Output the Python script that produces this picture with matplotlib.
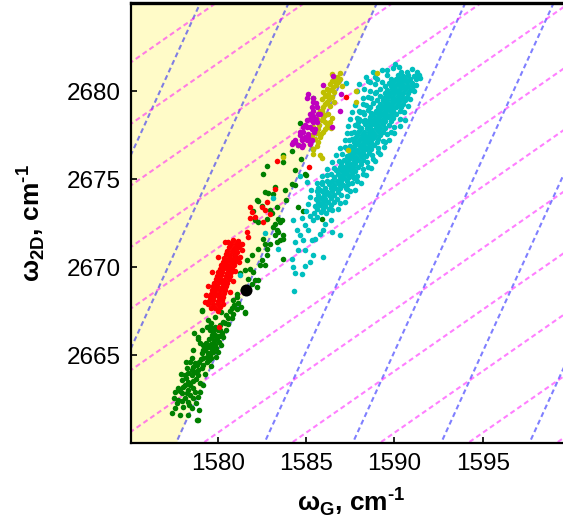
import numpy as np
import matplotlib
matplotlib.use("Agg")
import matplotlib.pyplot as plt

plt.rcParams["font.family"] = ["Liberation Sans", "DejaVu Sans"]
plt.rcParams["mathtext.fontset"] = "custom"
plt.rcParams["mathtext.rm"] = "Liberation Sans:bold"
plt.rcParams["mathtext.bf"] = "Liberation Sans:bold"
plt.rcParams["lines.scale_dashes"] = False

# reference point (unstrained, undoped) and slopes of the two line families
ref_G, ref_2D = 1581.6, 2668.7
strain_slope = 2.2
doping_slope = 0.7
line_step = 5.0

xticks = [1580, 1585, 1590, 1595]
yticks = [2665, 2670, 2675, 2680]

green_x = [1581.55, 1580.89, 1579.13, 1580.60, 1580.42, 1580.13, 1579.85, 1579.57, 1579.38, 1580.04,
           1579.75, 1580.23, 1579.85, 1579.66, 1579.94, 1578.68, 1578.90, 1579.00, 1579.19, 1579.47,
           1579.66, 1579.28, 1579.47, 1579.09, 1579.57, 1579.38, 1579.19, 1578.53, 1578.43, 1579.38,
           1579.66, 1578.81, 1578.62, 1578.25, 1578.90, 1578.72, 1578.34, 1578.15, 1578.53, 1578.90,
           1577.96, 1578.34, 1579.00, 1578.15, 1578.43, 1577.77, 1578.34, 1578.72, 1579.00, 1577.96,
           1578.43, 1578.15, 1578.62, 1578.34, 1577.68, 1577.59, 1578.06, 1578.53, 1577.40, 1577.87,
           1578.34, 1578.90, 1578.81,
           1579.75, 1579.95, 1580.15, 1579.55, 1579.70, 1580.05, 1579.50, 1579.80, 1580.05, 1579.60,
           1579.85, 1579.35, 1579.75, 1579.90, 1579.30, 1579.15, 1579.65, 1579.50, 1579.05, 1578.95,
           1579.20, 1578.70, 1579.10, 1578.55, 1578.80, 1578.60, 1578.20, 1578.05, 1577.85, 1578.25,
           1578.60, 1577.75, 1578.00, 1578.40, 1577.55, 1578.75, 1580.30, 1580.60, 1580.80, 1580.45,
           1580.20, 1581.10, 1581.35, 1580.95, 1579.09, 1579.47, 1579.85, 1579.65,
           1580.30, 1580.50, 1580.00, 1580.20, 1579.90, 1579.60, 1579.30, 1579.20, 1578.90, 1578.95,
           1577.60, 1577.90, 1578.20, 1578.60, 1578.90, 1579.10, 1580.70,
           1582.58, 1582.77, 1582.68, 1583.15, 1583.24, 1582.21, 1582.30, 1582.96, 1583.06, 1582.77,
           1582.11, 1582.30, 1583.43, 1583.53, 1583.24, 1583.15, 1583.34, 1583.43, 1583.24, 1583.53,
           1583.34, 1583.72, 1582.58, 1582.68, 1582.96, 1582.77, 1582.30, 1581.92, 1581.64, 1582.49,
           1582.77, 1582.39, 1582.68, 1581.83, 1582.02, 1581.55, 1581.73, 1582.11, 1582.30, 1581.92,
           1582.21, 1581.45, 1581.07, 1581.17, 1580.98, 1581.26, 1580.89, 1580.79, 1581.55, 1581.07,
           1585.41, 1584.66, 1584.56, 1584.19, 1585.37, 1584.70, 1583.71, 1584.94, 1583.72, 1584.38,
           1584.19, 1584.38, 1585.00, 1583.81, 1583.87, 1584.56, 1584.81, 1585.88, 1583.62, 1583.72,
           1583.72, 1582.86, 1583.34, 1582.50, 1582.00]
green_y = [2667.40, 2667.33, 2667.52, 2667.08, 2666.83, 2666.70, 2666.61, 2666.65, 2666.57, 2666.42,
           2666.32, 2666.23, 2666.14, 2666.04, 2665.95, 2666.23, 2666.00, 2665.66, 2665.57, 2665.47,
           2665.38, 2665.28, 2665.10, 2665.10, 2665.00, 2664.90, 2664.81, 2664.81, 2664.62, 2664.62,
           2665.28, 2664.43, 2664.34, 2664.25, 2664.15, 2664.06, 2663.96, 2663.87, 2663.87, 2663.87,
           2663.58, 2663.49, 2663.40, 2663.30, 2663.30, 2663.11, 2663.02, 2662.92, 2662.92, 2662.83,
           2662.73, 2662.54, 2662.54, 2662.35, 2662.26, 2661.98, 2662.07, 2661.98, 2661.69, 2661.60,
           2661.60, 2661.31, 2661.28,
           2666.50, 2666.55, 2666.45, 2666.40, 2666.15, 2666.10, 2665.90, 2665.80, 2665.75, 2665.65,
           2665.55, 2665.70, 2665.20, 2665.40, 2665.45, 2665.30, 2664.85, 2664.70, 2664.75, 2664.60,
           2664.45, 2664.55, 2664.25, 2664.15, 2663.65, 2663.55, 2663.70, 2663.20, 2662.95, 2662.85,
           2663.10, 2662.45, 2662.40, 2662.15, 2662.55, 2662.25, 2666.90, 2666.75, 2667.10, 2667.30,
           2667.45, 2667.60, 2667.75, 2667.85, 2667.55, 2666.99, 2667.18, 2666.85,
           2666.00, 2666.40, 2665.20, 2665.60, 2664.90, 2664.40, 2663.90, 2663.30, 2662.60, 2661.90,
           2662.90, 2663.90, 2664.60, 2665.30, 2665.90, 2666.40, 2667.50,
           2675.31, 2675.73, 2674.27, 2674.17, 2674.55, 2673.80, 2673.76, 2673.23, 2673.08, 2672.76,
           2672.66, 2672.57, 2672.76, 2672.57, 2672.47, 2672.28, 2672.10, 2672.00, 2671.81, 2671.53,
           2671.43, 2671.81, 2671.62, 2671.34, 2671.34, 2671.05, 2671.05, 2670.68, 2670.39, 2670.39,
           2670.68, 2670.11, 2670.11, 2669.92, 2669.73, 2669.82, 2669.35, 2669.26, 2669.26, 2669.03,
           2668.88, 2668.69, 2668.31, 2667.97, 2670.68, 2669.64, 2668.12, 2667.65, 2667.46, 2668.50,
           2679.62, 2678.20, 2676.92, 2676.63, 2676.73, 2676.12, 2675.97, 2675.31, 2676.35, 2675.50,
           2674.74, 2674.65, 2675.22, 2674.36, 2673.80, 2673.42, 2673.17, 2672.76, 2672.66, 2671.62,
           2670.49, 2674.21, 2673.42, 2673.50, 2673.20]

red_x = [1583.34, 1583.24, 1582.77, 1582.49, 1582.68, 1582.96, 1581.83, 1581.92, 1581.83, 1582.11,
         1582.58, 1581.64, 1581.73, 1580.60, 1581.36, 1581.17, 1581.07, 1581.26, 1587.24, 1585.19,
         1580.08,
         1580.85, 1581.15,
         1580.75, 1581.02, 1581.25,
         1580.63, 1580.92, 1581.15,
         1580.55, 1580.82, 1581.05,
         1580.45, 1580.68, 1580.97,
         1580.35, 1580.62, 1580.85, 1581.07,
         1580.30, 1580.52, 1580.73, 1580.96,
         1580.18, 1580.45, 1580.67, 1580.90,
         1580.12, 1580.35, 1580.60, 1580.84,
         1580.02, 1580.25, 1580.52, 1580.76,
         1579.95, 1580.18, 1580.45, 1580.70,
         1579.88, 1580.12, 1580.36, 1580.62,
         1579.80, 1580.05, 1580.28, 1580.55,
         1579.73, 1579.98, 1580.22, 1580.47,
         1579.68, 1579.92, 1580.15, 1580.40,
         1579.62, 1579.85, 1580.10, 1580.36,
         1579.56, 1579.80, 1580.05, 1580.30,
         1579.50, 1579.74, 1580.00, 1580.25,
         1579.48, 1579.72, 1580.02, 1580.30,
         1579.85, 1580.12,
         1580.00,
         1579.30, 1579.35, 1579.45, 1580.70, 1580.85, 1581.00, 1581.20, 1579.70, 1580.00, 1580.40,
         1581.40, 1579.60]
red_y = [2676.01, 2674.46, 2673.70, 2673.42, 2673.23, 2673.04, 2673.42, 2673.14, 2672.81, 2672.85,
         2672.57, 2672.00, 2671.72, 2671.43, 2671.34, 2671.15, 2670.86, 2670.58, 2679.70, 2675.69,
         2666.62,
         2671.52, 2671.48,
         2671.30, 2671.33, 2671.28,
         2671.12, 2671.08, 2671.13,
         2670.90, 2670.93, 2670.88,
         2670.72, 2670.68, 2670.71,
         2670.50, 2670.53, 2670.48, 2670.52,
         2670.30, 2670.33, 2670.28, 2670.32,
         2670.10, 2670.13, 2670.08, 2670.12,
         2669.90, 2669.93, 2669.88, 2669.92,
         2669.70, 2669.73, 2669.68, 2669.72,
         2669.50, 2669.53, 2669.48, 2669.52,
         2669.30, 2669.33, 2669.28, 2669.32,
         2669.10, 2669.13, 2669.08, 2669.12,
         2668.90, 2668.93, 2668.88, 2668.92,
         2668.70, 2668.73, 2668.68, 2668.72,
         2668.50, 2668.53, 2668.48, 2668.52,
         2668.30, 2668.33, 2668.28, 2668.32,
         2668.10, 2668.13, 2668.08, 2668.12,
         2667.90, 2667.93, 2667.88, 2667.92,
         2667.70, 2667.72,
         2667.50,
         2668.00, 2668.40, 2668.90, 2668.60, 2669.20, 2669.80, 2670.30, 2669.70, 2670.60, 2671.40,
         2671.00, 2667.70]

magenta_x = [1586.54, 1586.98, 1586.92, 1586.45, 1585.04, 1585.41, 1585.32, 1585.41, 1585.70, 1585.22,
             1585.41, 1585.04, 1585.32, 1584.85, 1585.13, 1585.45, 1584.66, 1584.94, 1584.75, 1584.38,
             1584.56, 1585.04, 1584.19, 1585.22, 1584.75,
             1585.98, 1585.13, 1585.41, 1585.60, 1585.79, 1585.41, 1585.04, 1585.32, 1584.85, 1585.22,
             1585.51, 1584.66, 1585.13, 1584.75, 1585.32, 1584.28, 1584.38, 1584.85, 1585.55, 1585.65,
             1584.95, 1585.25, 1585.55]
magenta_y = [2680.89, 2679.85, 2678.90, 2677.96, 2679.62, 2679.62, 2679.09, 2678.90, 2678.72, 2678.43,
             2678.24, 2677.96, 2677.87, 2677.68, 2677.58, 2677.70, 2677.49, 2677.39, 2677.20, 2677.11,
             2676.92, 2677.20, 2677.01, 2677.01, 2676.82,
             2680.38, 2679.85, 2679.38, 2679.09, 2678.72, 2678.62, 2678.34, 2678.34, 2677.96, 2677.96,
             2677.87, 2677.67, 2677.39, 2677.30, 2677.20, 2677.11, 2677.20, 2676.92, 2678.45, 2678.25,
             2678.10, 2678.70, 2679.35]

olive_x = [1586.73, 1586.64, 1586.83, 1586.36, 1586.55, 1587.02, 1586.17, 1585.98, 1586.26, 1586.45,
           1585.88, 1586.17, 1585.98, 1585.79, 1585.70, 1586.26, 1585.60, 1585.88, 1586.36, 1586.17,
           1585.41, 1585.70, 1585.98, 1585.32, 1585.51, 1585.22, 1585.41, 1585.79, 1585.88, 1583.72,
           1586.26, 1589.00, 1587.83, 1587.83, 1587.36, 1585.41,
           1586.90, 1586.50, 1586.95, 1586.45, 1586.70, 1586.35, 1586.60, 1586.05, 1586.30, 1586.60,
           1586.05, 1586.35, 1585.90, 1586.10, 1586.45, 1585.95, 1586.10, 1585.75, 1586.40, 1586.05,
           1585.85, 1585.65, 1585.70, 1585.79, 1585.60]
olive_y = [2680.83, 2680.61, 2680.51, 2680.42, 2680.23, 2680.32, 2680.13, 2679.95, 2679.85, 2679.66,
           2679.57, 2679.38, 2679.09, 2678.90, 2678.72, 2678.72, 2678.43, 2678.34, 2678.24, 2678.05,
           2677.96, 2677.87, 2677.67, 2677.50, 2677.30, 2677.01, 2676.73, 2676.35, 2676.22, 2676.26,
           2677.96, 2681.02, 2680.04, 2679.38, 2676.67, 2676.44,
           2681.05, 2681.00, 2680.70, 2680.60, 2680.35, 2680.05, 2679.95, 2679.75, 2679.55, 2679.40,
           2679.30, 2679.15, 2678.85, 2678.65, 2678.50, 2678.50, 2678.25, 2678.10, 2677.90, 2677.85,
           2677.55, 2677.60, 2677.10, 2677.39, 2676.90]

cyan_x = [1590.05,
          1589.90, 1590.25, 1591.00,
          1588.80, 1590.40, 1590.70, 1591.30,
          1589.60, 1590.20, 1590.50, 1590.80, 1591.10, 1591.40,
          1589.00, 1589.80, 1590.10, 1590.35, 1590.60, 1590.90, 1591.20,
          1588.60, 1589.30, 1589.70, 1589.95, 1590.20, 1590.45, 1590.70, 1591.00,
          1589.50, 1589.80, 1590.05, 1590.30, 1590.55, 1590.80, 1591.05,
          1588.30, 1589.20, 1589.60, 1589.85, 1590.10, 1590.35, 1590.60, 1590.90,
          1588.90, 1589.50, 1589.75, 1590.00, 1590.25, 1590.50, 1590.75,
          1588.50, 1589.20, 1589.45, 1589.70, 1589.95, 1590.20, 1590.45, 1590.70,
          1589.00, 1589.35, 1589.60, 1589.85, 1590.10, 1590.35, 1590.60,
          1588.20, 1588.80, 1589.20, 1589.45, 1589.70, 1589.95, 1590.20, 1590.50,
          1588.60, 1589.10, 1589.35, 1589.60, 1589.85, 1590.10, 1590.40,
          1588.00, 1588.50, 1588.95, 1589.20, 1589.45, 1589.70, 1589.95, 1590.30,
          1588.30, 1588.80, 1589.05, 1589.30, 1589.55, 1589.80, 1590.10,
          1587.90, 1588.60, 1588.90, 1589.15, 1589.40, 1589.65, 1589.95,
          1588.20, 1588.50, 1588.75, 1589.00, 1589.25, 1589.50, 1589.80,
          1587.80, 1588.35, 1588.60, 1588.85, 1589.10, 1589.35, 1589.70,
          1588.10, 1588.45, 1588.70, 1588.95, 1589.20, 1589.50,
          1587.70, 1588.00, 1588.30, 1588.55, 1588.80, 1589.05, 1589.35, 1589.80,
          1587.90, 1588.15, 1588.40, 1588.65, 1588.90, 1589.20,
          1587.60, 1587.80, 1588.05, 1588.30, 1588.55, 1588.80, 1589.10,
          1587.70, 1587.95, 1588.20, 1588.45, 1588.70, 1589.00, 1589.50,
          1587.50, 1587.80, 1588.05, 1588.30, 1588.55, 1588.85,
          1587.35, 1587.65, 1587.90, 1588.15, 1588.40, 1588.70,
          1587.50, 1587.75, 1588.00, 1588.25, 1588.55, 1589.10,
          1587.30, 1587.60, 1587.85, 1588.10, 1588.40,
          1587.15, 1587.45, 1587.70, 1587.95, 1588.25, 1588.80,
          1587.00, 1587.30, 1587.55, 1587.80, 1588.10,
          1586.90, 1587.15, 1587.40, 1587.65, 1587.95, 1588.50,
          1586.70, 1587.00, 1587.25, 1587.50, 1587.80,
          1586.40, 1586.80, 1587.10, 1587.35, 1587.60, 1588.20,
          1586.60, 1586.90, 1587.15, 1587.45, 1587.70,
          1586.20, 1586.45, 1586.75, 1587.00, 1587.30, 1587.90,
          1585.90, 1586.30, 1586.60, 1586.85, 1587.10, 1587.40,
          1585.70, 1586.10, 1586.40, 1586.65, 1586.95, 1587.25,
          1585.60, 1585.90, 1586.20, 1586.50, 1586.80, 1587.50,
          1585.70, 1586.00, 1586.30, 1586.60, 1587.00,
          1585.55, 1585.85, 1586.10, 1586.40, 1586.75,
          1585.70, 1585.95, 1586.25, 1586.60, 1587.20,
          1585.50, 1585.80, 1586.05, 1586.40,
          1585.65, 1585.95, 1586.30, 1586.80,
          1585.45, 1585.85, 1586.15,
          1589.30, 1589.60,
          1588.40, 1588.90, 1591.45,
          1588.00, 1588.90, 1591.25,
          1587.90, 1588.60, 1588.95, 1591.10,
          1588.20, 1588.70, 1590.90,
          1587.80, 1588.40, 1590.75,
          1587.60, 1588.20, 1588.70, 1590.55,
          1587.50, 1588.00, 1588.35, 1590.30, 1590.60,
          1587.40, 1587.95, 1590.00, 1590.30,
          1587.30, 1587.55, 1589.60, 1590.00,
          1587.20, 1587.45, 1589.35, 1589.70,
          1586.95, 1587.20, 1589.10, 1589.40,
          1586.70, 1587.05, 1588.75, 1589.20,
          1586.50, 1586.85, 1588.45, 1588.90,
          1586.20, 1586.60, 1588.20, 1588.70,
          1585.90, 1586.20, 1587.90, 1588.40,
          1585.60, 1585.90, 1587.60, 1588.10,
          1585.30, 1587.30, 1587.80,
          1585.20, 1587.30,
          1585.10, 1586.90,
          1585.00, 1586.50,
          1584.66, 1585.04, 1585.79, 1584.28, 1584.47, 1584.94, 1584.66, 1584.85, 1584.38, 1585.41,
          1585.13, 1585.51, 1585.32, 1585.79, 1585.98, 1586.45, 1586.92, 1586.07, 1584.56, 1584.94,
          1584.19, 1585.41, 1585.98, 1585.22, 1584.94, 1584.28, 1584.38, 1584.75, 1584.32, 1585.60,
          1586.40, 1585.20, 1584.80,
          1583.15, 1582.68, 1583.39, 1581.26, 1587.26, 1587.49, 1587.58, 1587.11, 1588.05, 1587.96,
          1588.52]
cyan_y = [2681.55,
          2681.30, 2681.35, 2681.28,
          2681.10, 2681.12, 2681.08, 2681.10,
          2680.90, 2680.92, 2680.88, 2680.91, 2680.89, 2680.92,
          2680.70, 2680.72, 2680.68, 2680.71, 2680.69, 2680.72, 2680.70,
          2680.50, 2680.52, 2680.48, 2680.51, 2680.49, 2680.52, 2680.50, 2680.48,
          2680.30, 2680.32, 2680.28, 2680.31, 2680.29, 2680.32, 2680.30,
          2680.10, 2680.12, 2680.08, 2680.11, 2680.09, 2680.12, 2680.10, 2680.08,
          2679.90, 2679.92, 2679.88, 2679.91, 2679.89, 2679.92, 2679.90,
          2679.70, 2679.72, 2679.68, 2679.71, 2679.69, 2679.72, 2679.70, 2679.68,
          2679.50, 2679.52, 2679.48, 2679.51, 2679.49, 2679.52, 2679.50,
          2679.30, 2679.32, 2679.28, 2679.31, 2679.29, 2679.32, 2679.30, 2679.28,
          2679.10, 2679.12, 2679.08, 2679.11, 2679.09, 2679.12, 2679.10,
          2678.90, 2678.92, 2678.88, 2678.91, 2678.89, 2678.92, 2678.90, 2678.88,
          2678.70, 2678.72, 2678.68, 2678.71, 2678.69, 2678.72, 2678.70,
          2678.50, 2678.52, 2678.48, 2678.51, 2678.49, 2678.52, 2678.50,
          2678.30, 2678.32, 2678.28, 2678.31, 2678.29, 2678.32, 2678.30,
          2678.10, 2678.12, 2678.08, 2678.11, 2678.09, 2678.12, 2678.10,
          2677.90, 2677.92, 2677.88, 2677.91, 2677.89, 2677.92,
          2677.70, 2677.72, 2677.68, 2677.71, 2677.69, 2677.72, 2677.70, 2677.68,
          2677.50, 2677.52, 2677.48, 2677.51, 2677.49, 2677.52,
          2677.30, 2677.32, 2677.28, 2677.31, 2677.29, 2677.32, 2677.30,
          2677.10, 2677.12, 2677.08, 2677.11, 2677.09, 2677.12, 2677.10,
          2676.90, 2676.92, 2676.88, 2676.91, 2676.89, 2676.92,
          2676.70, 2676.72, 2676.68, 2676.71, 2676.69, 2676.72,
          2676.50, 2676.52, 2676.48, 2676.51, 2676.49, 2676.52,
          2676.30, 2676.32, 2676.28, 2676.31, 2676.29,
          2676.10, 2676.12, 2676.08, 2676.11, 2676.09, 2676.12,
          2675.90, 2675.92, 2675.88, 2675.91, 2675.89,
          2675.70, 2675.72, 2675.68, 2675.71, 2675.69, 2675.72,
          2675.50, 2675.52, 2675.48, 2675.51, 2675.49,
          2675.30, 2675.32, 2675.28, 2675.31, 2675.29, 2675.32,
          2675.10, 2675.12, 2675.08, 2675.11, 2675.09,
          2674.90, 2674.92, 2674.88, 2674.91, 2674.89, 2674.92,
          2674.70, 2674.72, 2674.68, 2674.71, 2674.69, 2674.72,
          2674.50, 2674.52, 2674.48, 2674.51, 2674.49, 2674.52,
          2674.30, 2674.32, 2674.28, 2674.31, 2674.29, 2674.32,
          2674.10, 2674.12, 2674.08, 2674.11, 2674.09,
          2673.90, 2673.92, 2673.88, 2673.91, 2673.89,
          2673.70, 2673.72, 2673.68, 2673.71, 2673.69,
          2673.50, 2673.52, 2673.48, 2673.51,
          2673.30, 2673.32, 2673.28, 2673.31,
          2673.10, 2673.12, 2673.08,
          2681.20, 2681.22,
          2680.80, 2680.82, 2680.78,
          2680.40, 2680.42, 2680.38,
          2680.00, 2680.02, 2679.98, 2680.01,
          2679.60, 2679.62, 2679.58,
          2679.20, 2679.22, 2679.18,
          2678.80, 2678.82, 2678.78, 2678.81,
          2678.40, 2678.42, 2678.38, 2678.41, 2678.39,
          2678.00, 2678.02, 2677.98, 2678.01,
          2677.60, 2677.62, 2677.58, 2677.61,
          2677.20, 2677.22, 2677.18, 2677.21,
          2676.80, 2676.82, 2676.78, 2676.81,
          2676.40, 2676.42, 2676.38, 2676.41,
          2676.00, 2676.02, 2675.98, 2676.01,
          2675.60, 2675.62, 2675.58, 2675.61,
          2675.20, 2675.22, 2675.18, 2675.21,
          2674.80, 2674.82, 2674.78, 2674.81,
          2674.40, 2674.42, 2674.38,
          2674.00, 2674.02,
          2673.60, 2673.62,
          2673.20, 2673.22,
          2675.16, 2674.84, 2674.40, 2672.66, 2672.09, 2672.38, 2671.81, 2671.53, 2671.43, 2672.66,
          2672.09, 2671.62, 2671.53, 2671.90, 2672.09, 2672.00, 2671.81, 2672.47, 2670.96, 2670.96,
          2670.49, 2670.68, 2670.58, 2670.30, 2670.05, 2670.01, 2669.67, 2669.63, 2668.65, 2672.85,
          2672.70, 2672.90, 2672.80,
          2673.95, 2671.94, 2671.05, 2669.54, 2680.49, 2676.73, 2676.45, 2675.59, 2678.81, 2678.24,
          2680.61]

fig = plt.figure(figsize=(5.63, 5.22), dpi=100)
ax = fig.add_axes([130.7 / 563, 79 / 522, (571 - 130.7) / 563, (443 - 3.3) / 522])

x_lo, x_hi = 1575.08, 1600.0
y_lo, y_hi = 2660.0, 2685.0

# shaded side of the zero-doping strain line
ys = np.array([y_lo, y_hi])
ax.fill_betweenx(ys, x_lo, ref_G + (ys - ref_2D) / strain_slope,
                 color="#fffbc8", lw=0, zorder=0)

xx = np.array([1560.0, 1610.0])
for k in range(-8, 8):
    ax.plot(xx, ref_2D + strain_slope * (xx - ref_G - line_step * k),
            color=(0, 0, 1), alpha=0.5, lw=1.5, dashes=(3.6, 2.4), zorder=1)
for k in range(-10, 10):
    ax.plot(xx, ref_2D + doping_slope * (xx - ref_G - line_step * k),
            color=(1, 0, 1), alpha=0.5, lw=1.5, dashes=(3.6, 2.4), zorder=1)

msize = 16
ax.scatter(green_x, green_y, s=msize, c="g", lw=0, zorder=3)
ax.scatter(red_x, red_y, s=msize, c="r", lw=0, zorder=4)
ax.scatter(cyan_x, cyan_y, s=msize, c="c", lw=0, zorder=3)
ax.scatter(olive_x, olive_y, s=msize, c="y", lw=0, zorder=4)
ax.scatter(magenta_x, magenta_y, s=msize, c="m", lw=0, zorder=5)
ax.scatter([ref_G], [ref_2D], s=75, c="k", lw=0, zorder=6)

ax.set_xlim(x_lo, x_hi)
ax.set_ylim(y_lo, y_hi)
ax.set_xticks(xticks)
ax.set_yticks(yticks)
ax.tick_params(direction="in", length=4, width=1.2, labelsize=17.5, pad=7,
               top=False, right=False)

ax.spines["right"].set_visible(False)
ax.spines["top"].set_linewidth(2.4)
ax.spines["left"].set_linewidth(1.6)
ax.spines["bottom"].set_linewidth(1.6)

ax.set_xlabel(r"ω$_\mathrm{G}$, cm$^\text{-1}$", fontsize=19, fontweight="bold", labelpad=8)
ax.set_ylabel(r"ω$_\mathrm{2D}$, cm$^\text{-1}$", fontsize=19, fontweight="bold", labelpad=14)

fig.savefig("out.png", dpi=100)
